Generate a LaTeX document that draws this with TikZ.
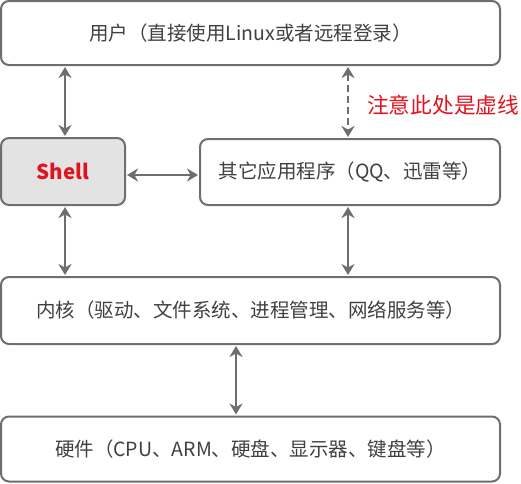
\documentclass[tikz,border=0pt]{standalone}
\usepackage{fontspec}
\setmainfont{Noto Sans CJK SC}
\usetikzlibrary{arrows.meta}
\definecolor{edge}{HTML}{6E6E6E}
\definecolor{txt}{HTML}{404040}
\definecolor{shellfill}{HTML}{E3E3E3}
\definecolor{redtxt}{HTML}{E0141E}
\tikzset{
  layer/.style={draw=edge, line width=2pt, rounded corners=8pt, inner sep=0pt,
    text=txt, font=\fontsize{19.5}{22}\selectfont},
  arr/.style={draw=edge, line width=2.5pt, {Stealth[length=11pt,width=13pt,inset=3.5pt]}-{Stealth[length=11pt,width=13pt,inset=3.5pt]}, shorten <=1pt, shorten >=1pt},
  dasharr/.style={arr, dash pattern=on 7pt off 4pt},
}
\begin{document}
\begin{tikzpicture}[x=1pt,y=-1pt]
\useasboundingbox (0,0) rectangle (521,483);
\node[layer, minimum width=499pt, minimum height=64pt] (user) at (250.5,33) {用户（直接使用Linux或者远程登录）};
\node[layer, fill=shellfill, minimum width=124pt, minimum height=67pt, text=redtxt, font=\fontsize{20.5}{24}\selectfont\bfseries] (shell) at (63,171.5) {Shell};
\node[layer, minimum width=300pt, minimum height=66pt] (apps) at (350,172) {其它应用程序（QQ、迅雷等）};
\node[layer, minimum width=499pt, minimum height=67pt] (kernel) at (250.5,310.5) {内核（驱动、文件系统、进程管理、网络服务等）};
\node[layer, minimum width=499pt, minimum height=65pt] (hw) at (250.5,449) {硬件（CPU、ARM、硬盘、显示器、键盘等）};
\node[text=redtxt, font=\fontsize{21.7}{24}\selectfont, anchor=west, inner sep=0pt] (note) at (367,105) {注意此处是虚线};
\draw[arr] (user.south -| 65,0) -- (shell.north -| 65,0);
\draw[dasharr] (user.south -| 348,0) -- (apps.north -| 348,0);
\draw[arr] (shell.east |- 0,175) -- (apps.west |- 0,175);
\draw[arr] (shell.south -| 65,0) -- (kernel.north -| 65,0);
\draw[arr] (apps.south -| 348,0) -- (kernel.north -| 348,0);
\draw[arr] (kernel.south -| 236,0) -- (hw.north -| 236,0);
\end{tikzpicture}
\end{document}
